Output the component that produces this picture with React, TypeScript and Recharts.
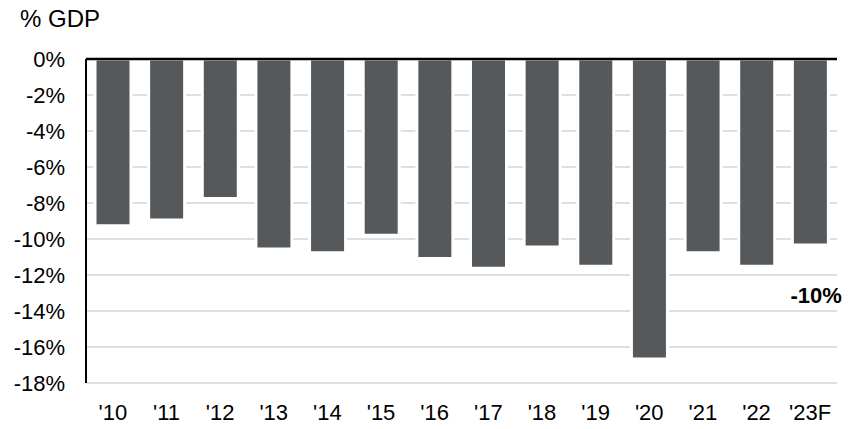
import React from 'react';
import { BarChart, Bar, XAxis, YAxis, CartesianGrid, ReferenceLine, ReferenceDot } from 'recharts';

const categories = ["'10", "'11", "'12", "'13", "'14", "'15", "'16", "'17", "'18", "'19", "'20", "'21", "'22", "'23F"];
const deficit = [-9.26, -8.94, -7.75, -10.55, -10.76, -9.79, -11.09, -11.63, -10.44, -11.52, -16.67, -10.76, -11.52, -10.33];
const yTicks = [0, -2, -4, -6, -8, -10, -12, -14, -16, -18];
const unitLabel = '% GDP';
const annotation = { category: "'23F", y: -13.1, text: '-10%' };

const data = categories.map((c, i) => ({ year: c, value: deficit[i] }));

const FONT = 'Arial, "Liberation Sans", sans-serif';

export default function App() {
  return (
    <div style={{ position: 'absolute', left: 0, top: 0, width: 860, height: 429, background: '#fff', fontFamily: FONT }}>
      <div style={{ position: 'absolute', left: 20, top: 5, fontSize: 24, color: '#000', lineHeight: 'normal' }}>{unitLabel}</div>
      <BarChart width={860} height={429} data={data} margin={{ top: 59, right: 23, bottom: 0, left: 0 }} barSize={36}>
        <CartesianGrid vertical={false} stroke="#d4d4d4" strokeWidth={1.5} />
        <XAxis
          dataKey="year"
          height={46}
          axisLine={false}
          tickLine={false}
          tickSize={0}
          tickMargin={21}
          interval={0}
          tick={{ fill: '#000', fontSize: 22, fontFamily: FONT }}
        />
        <YAxis
          width={86}
          domain={[-18, 0]}
          ticks={yTicks}
          interval={0}
          tickFormatter={(v: number) => `${v}%`}
          axisLine={{ stroke: '#000', strokeWidth: 2 }}
          tickLine={false}
          tickSize={0}
          tickMargin={21}
          tick={{ fill: '#000', fontSize: 22, fontFamily: FONT }}
        />
        <Bar dataKey="value" fill="#56595c" stroke="#ffffff" strokeWidth={3} isAnimationActive={false} />
        <ReferenceLine y={0} stroke="#000" strokeWidth={2.5} />
        <ReferenceDot
          x={annotation.category}
          y={annotation.y}
          r={0}
          fill="none"
          stroke="none"
          label={{ value: annotation.text, position: 'center', dx: 6, fill: '#000', fontSize: 22, fontWeight: 'bold', fontFamily: FONT }}
        />
      </BarChart>
    </div>
  );
}
